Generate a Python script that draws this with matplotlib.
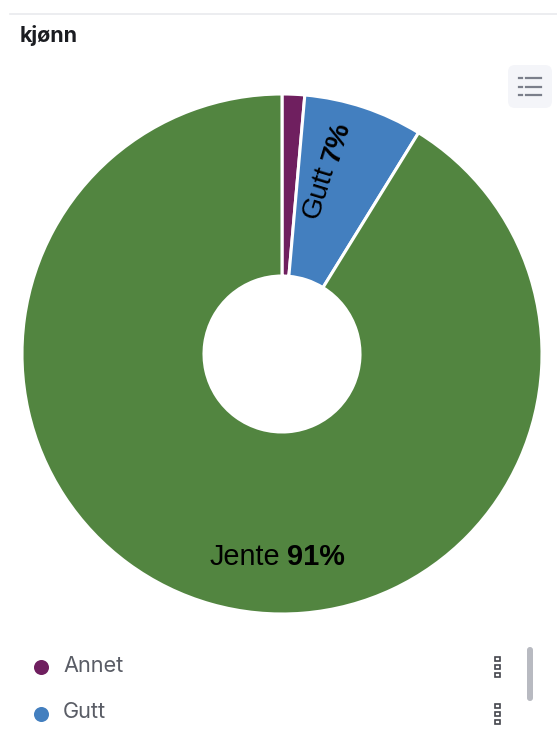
import matplotlib
matplotlib.use("Agg")
import matplotlib.pyplot as plt
from matplotlib.patches import FancyBboxPatch, Rectangle

categories = ["Annet", "Gutt", "Jente"]
values = [1.4, 7.4, 91.2]
percent_labels = ["", "7%", "91%"]
colors = ["#6f1f5f", "#437fbf", "#528540"]
legend_names = ["Annet", "Gutt"]
legend_colors = ["#6f1f5f", "#437fbf"]

W = 557
H = 743
fig = plt.figure(figsize=(W / 100, H / 100), dpi=100)
ax = fig.add_axes([0, 0, 1, 1])

# pie in pixel coordinates, y measured from the bottom
ax.pie(values, center=(282, H - 354), radius=260, startangle=90, counterclock=False,
       colors=colors, wedgeprops=dict(width=182, edgecolor="white", linewidth=2.2))
ax.set_xlim(0, W)
ax.set_ylim(0, H)
ax.set_aspect("equal")
ax.axis("off")

# card border at the top
ax.plot([10, 557], [H - 14, H - 14], color="#e9eaed", lw=1.2)
ax.text(20, H - 36, "kjønn", fontsize=15.4, fontweight="bold", family="Inter",
        color="#1a1c21", va="center", ha="left")

# list button top right
ax.add_patch(FancyBboxPatch((508, H - 108), 44, 43, boxstyle="round,pad=0,rounding_size=7",
                            fc="#f4f5f9", ec="none"))
for yy in [78, 87, 95]:
    ax.plot([519, 522], [H - yy, H - yy], color="#7b7f8b", lw=1.6)
    ax.plot([526, 541], [H - yy, H - yy], color="#7b7f8b", lw=1.6)

# slice labels
ax.text(319, H - 192, categories[1], fontsize=20.5, rotation=73, family="Liberation Sans",
        color="black", ha="center", va="center", rotation_mode="anchor")
ax.text(337, H - 142, percent_labels[1], fontsize=20.5, rotation=73, family="Liberation Sans",
        fontweight="bold", color="black", ha="center", va="center", rotation_mode="anchor")
ax.text(245, H - 557, categories[2], fontsize=20.8, family="Liberation Sans", color="black",
        ha="center", va="center")
ax.text(316, H - 557, percent_labels[2], fontsize=20.8, family="Liberation Sans", fontweight="bold",
        color="black", ha="center", va="center")

# legend rows
legend_y = [667, 714]
for name, col, yy in zip(legend_names, legend_colors, legend_y):
    ax.scatter([41], [H - yy], s=117, color=col, linewidths=0, zorder=3)
    ax.text(63, H - yy + 1.5, name, fontsize=15.6, family="Inter", color="#5a5d66",
            va="center", ha="left")
    for dy in [-8, 0, 8]:
        ax.add_patch(Rectangle((495, H - yy - dy - 2), 4.5, 4.5, fc="white", ec="#44464d", lw=1.2))

# scrollbar
ax.add_patch(FancyBboxPatch((527, H - 701), 6, 54, boxstyle="round,pad=0,rounding_size=3",
                            fc="#b8bac1", ec="none"))

fig.savefig("out.png", dpi=100)
